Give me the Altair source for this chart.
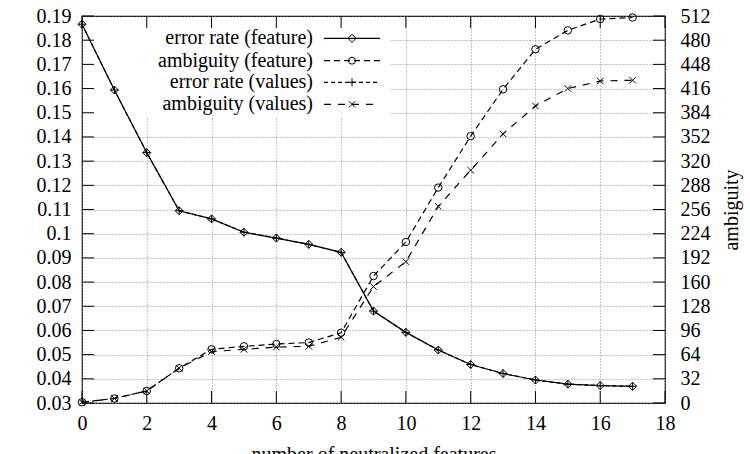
import altair as alt
import pandas as pd

# Number of neutralized features (x axis)
neutralized = [0, 1, 2, 3, 4, 5, 6, 7, 8, 9, 10, 11, 12, 13, 14, 15, 16, 17]

# Error rate, left axis
err_feature = [0.1866, 0.1594, 0.1335, 0.1095, 0.1061, 0.1006, 0.0982, 0.0956, 0.0923,
               0.0680, 0.0592, 0.0519, 0.0459, 0.0422, 0.0395, 0.0378, 0.0372, 0.0369]
err_values = [0.1866, 0.1594, 0.1335, 0.1095, 0.1061, 0.1006, 0.0982, 0.0956, 0.0923,
              0.0680, 0.0592, 0.0519, 0.0459, 0.0422, 0.0395, 0.0378, 0.0372, 0.0369]

# Ambiguity, right axis
amb_feature = [1, 6, 16, 46, 71, 75, 78, 80, 93, 168, 213, 285, 353, 415, 468, 493, 508, 510]
amb_values = [1, 6, 16, 46, 68, 71, 74, 75, 87, 154, 187, 260, 308, 356, 393, 416, 426, 427]

# Tick values
x_ticks = [0, 2, 4, 6, 8, 10, 12, 14, 16, 18]
err_ticks = [0.03, 0.04, 0.05, 0.06, 0.07, 0.08, 0.09, 0.10, 0.11, 0.12,
             0.13, 0.14, 0.15, 0.16, 0.17, 0.18, 0.19]
amb_ticks = [0, 32, 64, 96, 128, 160, 192, 224, 256, 288, 320, 352, 384, 416, 448, 480, 512]

series_labels = ["error rate (feature)", "ambiguity (feature)",
                 "error rate (values)", "ambiguity (values)"]

FONT = "'Liberation Serif', 'Times New Roman', 'DejaVu Serif', serif"
FS = 20
W, H = 583, 387
TICK = 12

df = pd.DataFrame({
    "n": neutralized,
    "err_feature": err_feature,
    "err_values": err_values,
    "amb_feature": amb_feature,
    "amb_values": amb_values,
})
xt = pd.DataFrame({"n": x_ticks})
et = pd.DataFrame({"err_feature": err_ticks})
at = pd.DataFrame({"amb_feature": amb_ticks})
one = pd.DataFrame({"k": [0]})

xscale = alt.Scale(domain=[0, 18], nice=False, zero=False)
yleft = alt.Scale(domain=[0.03, 0.19], nice=False, zero=False)
yright = alt.Scale(domain=[0, 512], nice=False, zero=False)

x_axis = alt.Axis(values=x_ticks, ticks=False, domain=False, labelPadding=10,
                  grid=True, title="number of neutralized features",
                  titleY=57, titleBaseline="alphabetic")
y_left_axis = alt.Axis(values=err_ticks, format="~g", orient="left", ticks=False,
                       domain=False, labelPadding=11, grid=True, title=None)
y_right_axis = alt.Axis(values=amb_ticks, orient="right", ticks=False, domain=False,
                        grid=False, labelPadding=15, title="ambiguity",
                        titleAngle=270, titleX=72, titleY=H / 2,
                        titleAlign="center", titleBaseline="alphabetic")

X = alt.X("n:Q", scale=xscale, axis=x_axis)
YL = alt.Y("err_feature:Q", scale=yleft, axis=y_left_axis)
YR = alt.Y("amb_feature:Q", scale=yright, axis=y_right_axis)

# Blank area behind the key
key_box = alt.Chart(one).mark_rect(fill="white", strokeWidth=0).encode(
    x=alt.value(1), x2=alt.value(309), y=alt.value(1), y2=alt.value(101))

# Inward ticks on the frame
bottom_ticks = alt.Chart(xt).mark_rule(color="black", strokeWidth=1).encode(
    x=X, y=alt.value(H), y2=alt.value(H - TICK))
top_ticks = alt.Chart(xt).mark_rule(color="black", strokeWidth=1).encode(
    x=X, y=alt.value(0), y2=alt.value(TICK))
left_ticks = alt.Chart(et).mark_rule(color="black", strokeWidth=1).encode(
    y=YL, x=alt.value(0), x2=alt.value(TICK))
right_ticks = alt.Chart(at).mark_rule(color="black", strokeWidth=1).encode(
    y=YR, x=alt.value(W), x2=alt.value(W - TICK))

PLUS = "M-1,0H1M0,-1V1"
CROSS = "M-1,-1L1,1M-1,1L1,-1"

base = alt.Chart(df)

err_feat_line = base.mark_line(color="black", strokeWidth=1.2).encode(x=X, y=YL)
err_feat_pts = base.mark_point(shape="diamond", filled=False, color="black",
                               size=64, strokeWidth=1, opacity=1).encode(x=X, y=YL)
err_val_line = base.mark_line(color="black", strokeWidth=1.2, strokeDash=[4, 3]).encode(
    x=X, y=alt.Y("err_values:Q", scale=yleft, axis=y_left_axis))
err_val_pts = base.mark_point(shape=PLUS, filled=False, color="black",
                              size=64, strokeWidth=1, opacity=1).encode(
    x=X, y=alt.Y("err_values:Q", scale=yleft, axis=y_left_axis))

amb_feat_line = base.mark_line(color="black", strokeWidth=1.2, strokeDash=[6, 4]).encode(
    x=X, y=YR)
amb_feat_pts = base.mark_point(shape="circle", filled=False, color="black",
                               size=56, strokeWidth=1, opacity=1).encode(x=X, y=YR)
amb_val_line = base.mark_line(color="black", strokeWidth=1.2, strokeDash=[7, 7]).encode(
    x=X, y=alt.Y("amb_values:Q", scale=yright, axis=y_right_axis))
amb_val_pts = base.mark_point(shape=CROSS, filled=False, color="black",
                              size=42, strokeWidth=1, opacity=1).encode(
    x=X, y=alt.Y("amb_values:Q", scale=yright, axis=y_right_axis))

# Key entries: label, sample line and marker
key_rows = [22.3, 44.7, 66.3, 88.3]
key_dash = [None, [6, 4], [4, 3], [7, 7]]
key_shape = ["diamond", "circle", PLUS, CROSS]
key_size = [64, 48, 64, 36]
key_layers = []
for lab, ry, dash, shp, sz in zip(series_labels, key_rows, key_dash, key_shape, key_size):
    key_layers.append(alt.Chart(one).mark_text(
        align="right", baseline="middle", font=FONT, fontSize=FS, color="black").encode(
        x=alt.value(231), y=alt.value(ry), text=alt.value(lab)))
    rule_kw = dict(color="black", strokeWidth=1.2)
    if dash:
        rule_kw["strokeDash"] = dash
    key_layers.append(alt.Chart(one).mark_rule(**rule_kw).encode(
        x=alt.value(242), x2=alt.value(298), y=alt.value(ry)))
    key_layers.append(alt.Chart(one).mark_point(
        shape=shp, filled=False, color="black", size=sz, strokeWidth=1, opacity=1).encode(
        x=alt.value(270), y=alt.value(ry)))

left_layer = alt.layer(key_box, err_feat_line, bottom_ticks, top_ticks, left_ticks,
                       err_val_line, err_feat_pts, err_val_pts)
right_layer = alt.layer(amb_feat_line, right_ticks, amb_feat_pts, amb_val_line,
                        amb_val_pts, *key_layers)

chart = alt.layer(left_layer, right_layer).resolve_scale(y="independent").properties(
    width=W, height=H,
    autosize=alt.AutoSizeParams(type="none"),
    padding={"left": 82, "top": 16, "right": 85, "bottom": 51},
    background="white",
).configure_view(
    stroke="black", strokeWidth=1.2
).configure_axis(
    labelFont=FONT, labelFontSize=FS, labelColor="black",
    labelFlush=False, labelOverlap=False,
    titleFont=FONT, titleFontSize=FS, titleFontWeight="normal", titleColor="black",
    gridColor="#8a8a8a", gridDash=[1, 2], gridWidth=1, gridOpacity=1,
)

chart.save("out.html", embed_options={"renderer": "svg", "actions": False})
